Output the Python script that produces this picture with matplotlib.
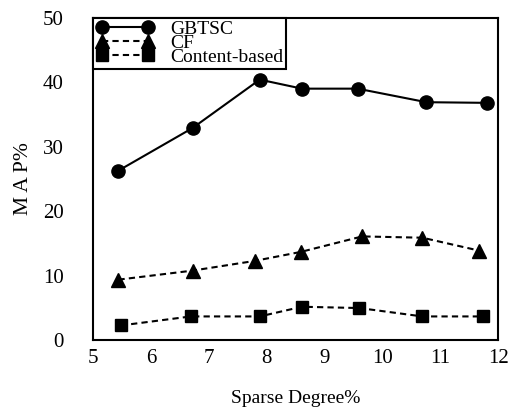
import matplotlib.pyplot as plt

plt.rcParams['font.family'] = ['Liberation Serif', 'DejaVu Serif']

# data
x_gbtsc = [5.44, 6.72, 7.88, 8.61, 9.57, 10.76, 11.80]
y_gbtsc = [26.3, 32.9, 40.4, 39.0, 39.0, 36.9, 36.8]
x_cf = [5.44, 6.72, 7.79, 8.59, 9.65, 10.69, 11.67]
y_cf = [9.4, 10.8, 12.3, 13.7, 16.1, 15.9, 13.9]
x_cb = [5.48, 6.69, 7.88, 8.61, 9.60, 10.69, 11.73]
y_cb = [2.3, 3.7, 3.7, 5.2, 5.0, 3.7, 3.7]

fig, ax = plt.subplots(figsize=(5.11, 4.11), dpi=100)
fig.subplots_adjust(left=0.182, right=0.975, top=0.957, bottom=0.172)

ax.plot(x_gbtsc, y_gbtsc, 'k-', marker='o', markersize=9.5, lw=1.5, label='GBTSC')
ax.plot(x_cf, y_cf, 'k', ls=(0, (3, 2)), marker='^', markersize=9.5, lw=1.5, label='CF')
ax.plot(x_cb, y_cb, 'k', ls=(0, (3, 2)), marker='s', markersize=8.5, lw=1.5, label='Content-based')

ax.set_xlim(5, 12)
ax.set_ylim(0, 50)
ax.set_xticks(range(5, 13))
ax.set_yticks(range(0, 51, 10))
ax.tick_params(length=0, labelsize=15)
ax.tick_params(axis='x', pad=6)
ax.tick_params(axis='y', pad=21)
for s in ax.spines.values():
    s.set_linewidth(1.5)

ax.set_xlabel('Sparse Degree%', fontsize=14, labelpad=16)
ax.set_ylabel('M A P%', fontsize=15.5)
ax.yaxis.set_label_coords(-0.148, 0.5)

leg = ax.legend(loc='upper left', fontsize=14, handlelength=3.0, numpoints=2,
                labelspacing=-0.2, borderaxespad=0, borderpad=0.15,
                handletextpad=0.8, fancybox=False, framealpha=1, edgecolor='k')
leg.get_frame().set_linewidth(1.5)

fig.savefig('out.png', dpi=100)
